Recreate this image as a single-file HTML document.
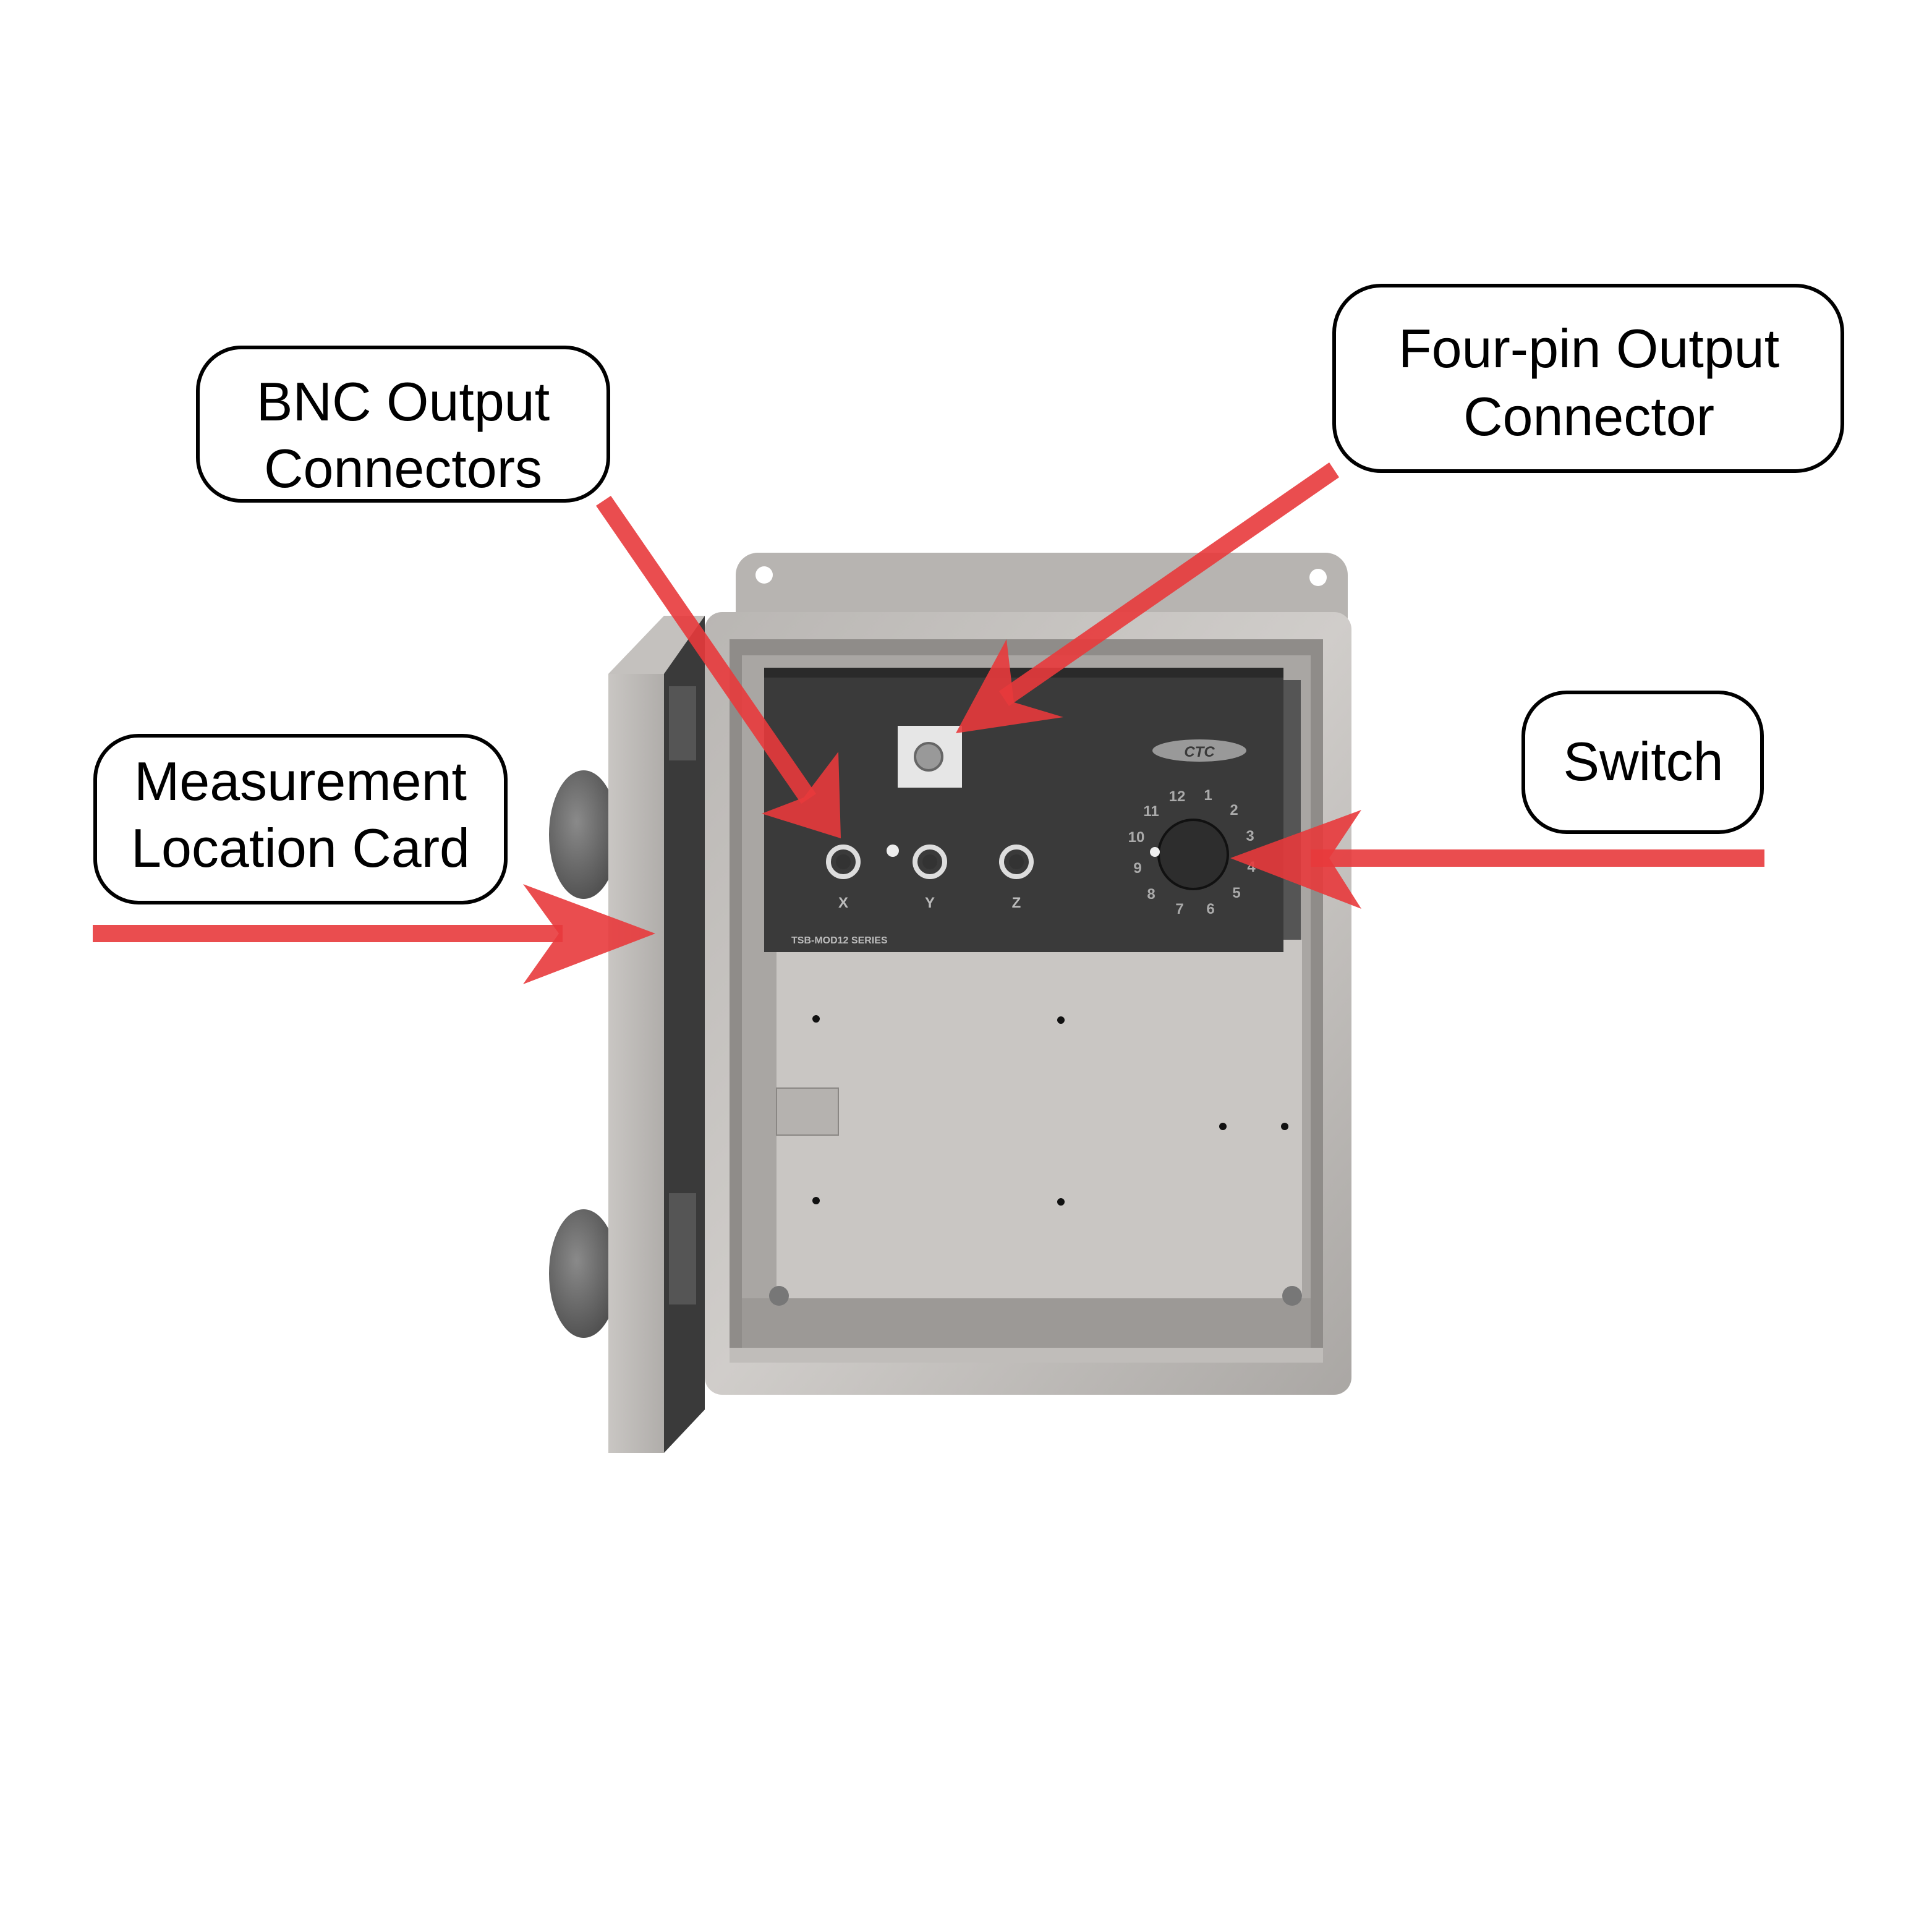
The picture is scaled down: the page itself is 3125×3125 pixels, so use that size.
<!DOCTYPE html>
<html><head><style>html,body{margin:0;padding:0;background:#fff}svg{display:block}</style></head><body>
<svg width="3125" height="3125" viewBox="0 0 1562.5 1562.5" xmlns="http://www.w3.org/2000/svg" font-family="Liberation Sans, sans-serif">
<defs>
<linearGradient id="met" x1="0" y1="0" x2="1" y2="1"><stop offset="0" stop-color="#b9b6b3"/><stop offset="0.5" stop-color="#d0cdca"/><stop offset="1" stop-color="#aaa7a4"/></linearGradient>
<linearGradient id="door" x1="0" y1="0" x2="1" y2="0"><stop offset="0" stop-color="#c9c6c3"/><stop offset="1" stop-color="#b0adaa"/></linearGradient>
<radialGradient id="knob" cx="0.4" cy="0.4" r="0.7"><stop offset="0" stop-color="#8a8a8a"/><stop offset="1" stop-color="#4a4a4a"/></radialGradient>
</defs>
<!-- back flange -->
<rect x="595" y="447" width="495" height="70" rx="18" fill="#b7b4b1"/>
<circle cx="618" cy="465" r="7" fill="#fff"/><circle cx="1066" cy="467" r="7" fill="#fff"/>
<!-- box outer -->
<rect x="570" y="495" width="523" height="633" rx="14" fill="url(#met)"/>
<rect x="590" y="517" width="480" height="585" fill="#8f8c89"/>
<rect x="600" y="530" width="460" height="560" fill="#a9a6a3"/>
<!-- lower plate -->
<rect x="628" y="760" width="425" height="290" fill="#c9c6c3"/>
<rect x="600" y="1050" width="460" height="45" fill="#9c9996"/>
<rect x="590" y="1090" width="480" height="12" fill="#c0bdba"/>
<circle cx="630" cy="1048" r="8" fill="#777"/><circle cx="1045" cy="1048" r="8" fill="#777"/>
<g fill="#111"><circle cx="660" cy="824" r="3"/><circle cx="858" cy="825" r="3"/><circle cx="641" cy="909" r="3"/><circle cx="989" cy="911" r="3"/><circle cx="1039" cy="911" r="3"/><circle cx="660" cy="971" r="3"/><circle cx="858" cy="972" r="3"/></g>
<rect x="628" y="880" width="50" height="38" fill="#b5b2af" stroke="#8a8784"/>
<!-- dark panel -->
<rect x="1030" y="550" width="22" height="210" fill="#555"/>
<rect x="618" y="540" width="420" height="230" fill="#3a3a3a"/>
<rect x="618" y="540" width="420" height="8" fill="#2a2a2a"/>
<rect x="726" y="587" width="52" height="50" fill="#e6e6e6"/>
<circle cx="751" cy="612" r="11" fill="#999" stroke="#666" stroke-width="2"/>
<text x="640" y="763" font-size="8" fill="#bbb" font-weight="bold">TSB-MOD12 SERIES</text>
<g fill="none" stroke="#ddd" stroke-width="4"><circle cx="682" cy="697" r="12"/><circle cx="752" cy="697" r="12"/><circle cx="822" cy="697" r="12"/></g>
<g fill="#333"><circle cx="682" cy="697" r="6"/><circle cx="752" cy="697" r="6"/><circle cx="822" cy="697" r="6"/></g>
<circle cx="722" cy="688" r="5" fill="#eee"/>
<g font-size="12" fill="#bbb" font-weight="bold" text-anchor="middle"><text x="682" y="734">X</text><text x="752" y="734">Y</text><text x="822" y="734">Z</text></g>
<ellipse cx="970" cy="607" rx="38" ry="9" fill="#999"/>
<text x="970" y="612" font-size="12" font-weight="bold" font-style="italic" fill="#3a3a3a" text-anchor="middle">CTC</text>
<g font-size="12" fill="#aaa" font-weight="bold" text-anchor="middle">
<text x="952" y="648">12</text><text x="977" y="647">1</text><text x="998" y="659">2</text><text x="1011" y="680">3</text><text x="1012" y="705">4</text><text x="1000" y="726">5</text><text x="979" y="739">6</text><text x="954" y="739">7</text><text x="931" y="727">8</text><text x="920" y="706">9</text><text x="919" y="681">10</text><text x="931" y="660">11</text></g>
<circle cx="965" cy="691" r="28" fill="#2d2d2d" stroke="#111" stroke-width="2"/>
<circle cx="934" cy="689" r="4" fill="#eee"/>
<!-- door -->
<ellipse cx="472" cy="675" rx="28" ry="52" fill="url(#knob)"/>
<ellipse cx="472" cy="1030" rx="28" ry="52" fill="url(#knob)"/>
<rect x="492" y="545" width="45" height="630" fill="url(#door)"/>
<polygon points="492,545 537,498 570,498 537,545" fill="#c4c1be"/>
<polygon points="537,545 570,498 570,1140 537,1175" fill="#3a3a3a"/>
<rect x="541" y="555" width="22" height="60" fill="#555"/>
<rect x="541" y="965" width="22" height="90" fill="#555"/>
<!-- arrows -->
<g fill="#e83a3c" fill-opacity="0.9" stroke="none">
<polygon points="75,748 455,748 455,762 75,762"/>
<polygon points="530,755 423,715 452,755 423,796"/>
<polygon points="1427,687 1060,687 1060,701 1427,701"/>
<polygon points="995,694 1101,655 1075,694 1101,735"/>
<polygon points="482,409 494,401 660,642 648,650"/>
<polygon points="680,678 616,658 650,645 678,608"/>
<polygon points="1075,374 1083,386 816,571 808,559"/>
<polygon points="773,593 860,580 820,568 814,517"/>
</g>
<!-- labels -->
<g fill="#fff" stroke="#000" stroke-width="3">
<rect x="160" y="281" width="332" height="124" rx="35"/>
<rect x="1079" y="231" width="411" height="150" rx="38"/>
<rect x="77" y="595" width="332" height="135" rx="35"/>
<rect x="1232" y="560" width="193" height="113" rx="35"/>
</g>
<g font-size="44" fill="#000" text-anchor="middle">
<text x="326" y="340">BNC Output</text><text x="326" y="394">Connectors</text>
<text x="1285" y="297">Four-pin Output</text><text x="1285" y="352">Connector</text>
<text x="243" y="647">Measurement</text><text x="243" y="701">Location Card</text>
<text x="1329" y="631">Switch</text>
</g>
</svg>
</body></html>
